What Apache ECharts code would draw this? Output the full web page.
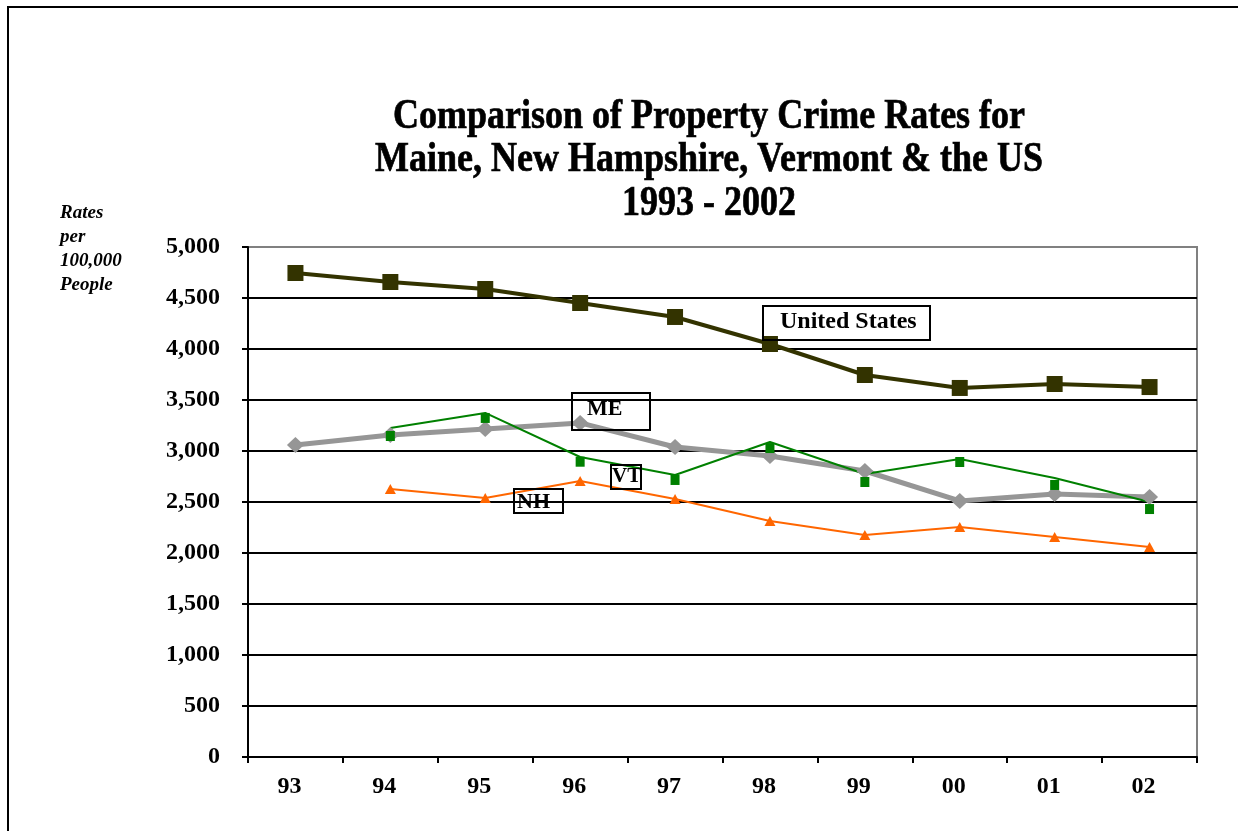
<!DOCTYPE html>
<html>
<head>
<meta charset="utf-8">
<script src="https://cdn.jsdelivr.net/npm/echarts@6/dist/echarts.min.js"></script>
<style>
  html, body { margin: 0; padding: 0; background: #fff; }
  #chart { width: 1238px; height: 831px; }
</style>
</head>
<body>
<div id="chart"></div>
<script>
// data (rates per 100,000 people)
var years = ['93', '94', '95', '96', '97', '98', '99', '00', '01', '02'];
var usRates = [4745, 4657, 4588, 4451, 4314, 4049, 3745, 3618, 3657, 3627];
var meRates = [3059, 3157, 3216, 3275, 3039, 2951, 2804, 2510, 2578, 2549];
var nhRates = [null, 2627, 2539, 2706, 2529, 2314, 2176, 2255, 2157, 2059];
// the VT line and its markers do not sit on the same values in the original
var vtLine = [null, 3225, 3373, 2941, 2765, 3088, 2775, 2922, 2735, 2500];
var vtMarks = [null, 3147, 3324, 2895, 2716, 3029, 2696, 2892, 2667, 2431];
var titleLines = ['Comparison of Property Crime Rates for', 'Maine, New Hampshire, Vermont & the US', '1993 - 2002'];

var SERIF = '"Liberation Serif", "Times New Roman", serif';

var chart = echarts.init(document.getElementById('chart'), null, {renderer: 'canvas'});

var graphics = [
    {
        type: 'rect', z: 0,
        shape: {x: 8, y: 7, width: 1300, height: 900},
        style: {fill: 'none', stroke: '#000', lineWidth: 2}
    },
    {
        type: 'text', x: 60, y: 201,
        style: {
            text: 'Rates\nper\n100,000\nPeople',
            font: 'italic bold 19px ' + SERIF,
            lineHeight: 24,
            fill: '#000',
            textAlign: 'left',
            textVerticalAlign: 'top'
        }
    }
];

var titleY = [117, 160, 204];
titleLines.forEach(function (line, i) {
    graphics.push({
        type: 'text', x: 709, y: titleY[i], scaleY: 1.15,
        style: {
            text: line,
            font: 'bold 36px ' + SERIF,
            fill: '#000',
            stroke: '#000',
            lineWidth: 0.6,
            textAlign: 'center',
            textVerticalAlign: 'middle'
        }
    });
});

// boxed series names
var boxes = [
    {text: 'United States', x: 763, y: 306, w: 167, h: 34, tx: 780, ty: 322, size: 24},
    {text: 'ME', x: 572, y: 393, w: 78, h: 37, tx: 587, ty: 409, size: 22},
    {text: 'VT', x: 611, y: 465, w: 30, h: 24, tx: 612, ty: 477, size: 21},
    {text: 'NH', x: 514, y: 489, w: 49, h: 24, tx: 517, ty: 502, size: 22}
];
boxes.forEach(function (b) {
    graphics.push({
        type: 'rect', z: 10,
        shape: {x: b.x, y: b.y, width: b.w, height: b.h},
        style: {fill: 'none', stroke: '#000', lineWidth: 2}
    });
    graphics.push({
        type: 'text', x: b.tx, y: b.ty, z: 10,
        style: {
            text: b.text,
            font: 'bold ' + b.size + 'px ' + SERIF,
            fill: '#000',
            textAlign: 'left',
            textVerticalAlign: 'middle'
        }
    });
});

var splitColors = [];
for (var k = 0; k < 10; k++) splitColors.push('#000');

var option = {
    animation: false,
    backgroundColor: '#fff',
    grid: {
        left: 248, right: 41, top: 247, bottom: 74,
        containLabel: false,
        show: true,
        backgroundColor: 'transparent',
        borderColor: '#808080',
        borderWidth: 2
    },
    xAxis: {
        type: 'category',
        data: years,
        boundaryGap: true,
        axisLine: {show: true, lineStyle: {color: '#000', width: 2}},
        axisTick: {show: true, inside: false, length: 6, lineStyle: {color: '#000', width: 2}},
        axisLabel: {
            show: true,
            margin: 18,
            padding: [0, 12, 0, 0],
            color: '#000',
            fontFamily: SERIF,
            fontWeight: 'bold',
            fontSize: 24,
            lineHeight: 24
        },
        splitLine: {show: false}
    },
    yAxis: {
        type: 'value',
        min: 0,
        max: 5000,
        interval: 500,
        axisLine: {show: true, lineStyle: {color: '#000', width: 2}},
        axisTick: {show: true, inside: false, length: 6, lineStyle: {color: '#000', width: 2}},
        axisLabel: {
            margin: 28,
            color: '#000',
            fontFamily: SERIF,
            fontWeight: 'bold',
            fontSize: 24,
            formatter: function (v) {
                return String(v).replace(/\B(?=(\d{3})+(?!\d))/g, ',');
            }
        },
        splitLine: {
            show: true,
            showMinLine: false,
            showMaxLine: false,
            lineStyle: {color: splitColors, width: 2}
        }
    },
    series: [
        {
            name: 'ME',
            type: 'line',
            data: meRates,
            symbol: 'diamond',
            symbolSize: [17, 16],
            lineStyle: {color: '#969696', width: 5},
            itemStyle: {color: '#969696'}
        },
        {
            name: 'NH',
            type: 'line',
            data: nhRates,
            symbol: 'triangle',
            symbolSize: [11, 10],
            lineStyle: {color: '#FF6600', width: 2},
            itemStyle: {color: '#FF6600'}
        },
        {
            name: 'VT',
            type: 'line',
            data: vtLine,
            showSymbol: false,
            symbol: 'none',
            lineStyle: {color: '#008000', width: 2}
        },
        {
            name: 'VT points',
            type: 'line',
            data: vtMarks,
            symbol: 'rect',
            symbolSize: [9, 10],
            lineStyle: {width: 0, opacity: 0},
            itemStyle: {color: '#008000'}
        },
        {
            name: 'United States',
            type: 'line',
            data: usRates,
            symbol: 'rect',
            symbolSize: 16,
            lineStyle: {color: '#333300', width: 4},
            itemStyle: {color: '#333300'}
        }
    ],
    graphic: {elements: graphics}
};

chart.setOption(option);
</script>
</body>
</html>
